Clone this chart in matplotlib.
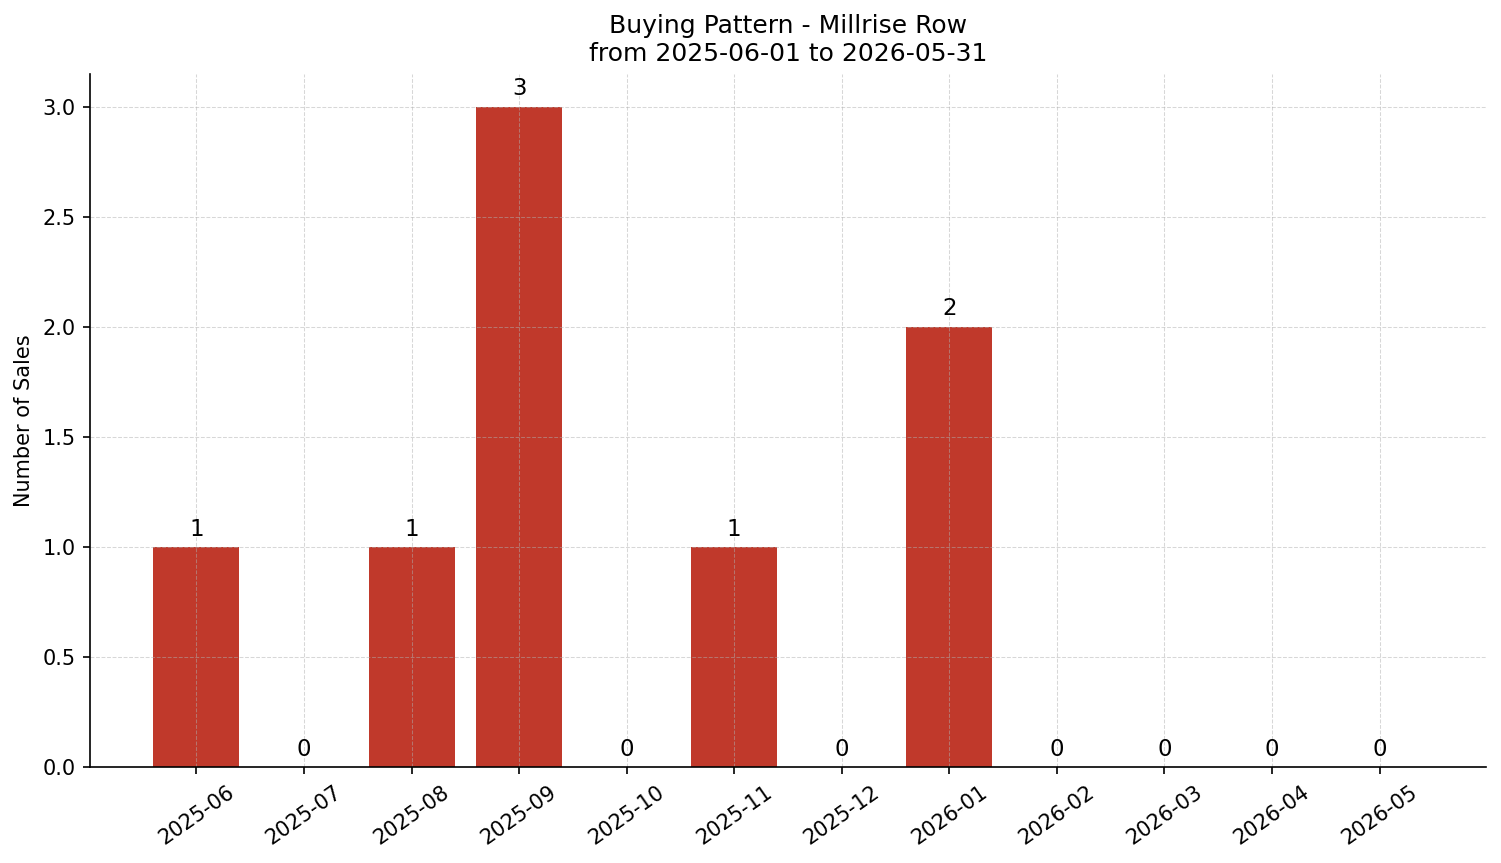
import matplotlib
matplotlib.use("Agg")
import matplotlib.pyplot as plt

months = ["2025-06", "2025-07", "2025-08", "2025-09", "2025-10", "2025-11",
          "2025-12", "2026-01", "2026-02", "2026-03", "2026-04", "2026-05"]
sales = [1, 0, 1, 3, 0, 1, 0, 2, 0, 0, 0, 0]

fig, ax = plt.subplots(figsize=(1501 / 150, 863 / 150), dpi=150)
fig.subplots_adjust(left=90 / 1501, right=1486 / 1501, top=1 - 73.5 / 863, bottom=1 - 767 / 863)

x = list(range(len(months)))
bars = ax.bar(x, sales, width=0.8, color="#c0392b")
for xi, v in zip(x, sales):
    ax.annotate(str(v), (xi, v), xytext=(0, 3), textcoords="offset points",
                ha="center", va="bottom", fontsize=11)

ax.set_xticks(x)
ax.set_xticklabels(months, rotation=35, ha="center", fontsize=10)
ax.tick_params(axis="y", labelsize=10)
ax.set_ylabel("Number of Sales", fontsize=10)
ax.set_title("Buying Pattern - Millrise Row\nfrom 2025-06-01 to 2026-05-31", fontsize=12)
ax.grid(True, linestyle="--", linewidth=0.5, color="#b0b0b0", alpha=0.5)
ax.spines["top"].set_visible(False)
ax.spines["right"].set_visible(False)

fig.savefig("out.png", dpi=150)
